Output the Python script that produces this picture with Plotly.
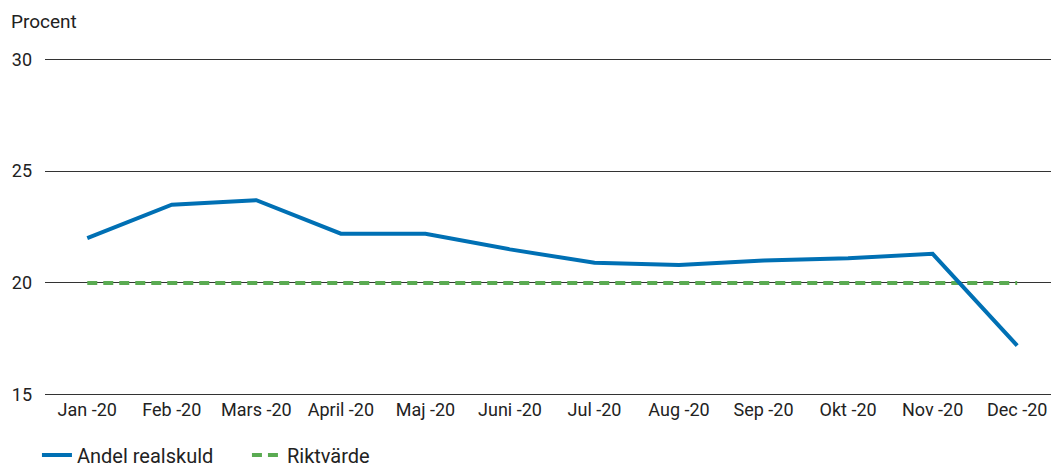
import plotly.graph_objects as go

months = ['Jan -20', 'Feb -20', 'Mars -20', 'April -20', 'Maj -20', 'Juni -20',
          'Jul -20', 'Aug -20', 'Sep -20', 'Okt -20', 'Nov -20', 'Dec -20']
andel_realskuld = [22.0, 23.5, 23.7, 22.2, 22.2, 21.5, 20.9, 20.8, 21.0, 21.1, 21.3, 17.2]
riktvarde = [20, 20, 20, 20, 20, 20, 20, 20, 20, 20, 20, 20]

fig = go.Figure()

fig.add_trace(go.Scatter(
    x=months, y=riktvarde,
    mode='lines',
    name='Riktvärde',
    line=dict(width=4, color='#5aab52', dash='10px,6px')
))

fig.add_trace(go.Scatter(
    x=months, y=andel_realskuld,
    mode='lines',
    name='Andel realskuld',
    line=dict(width=4, color='#0070b4')
))

fig.update_xaxes(
    range=[-0.5, 11.4],
    showgrid=False,
    showline=False,
    ticks='',
    tickfont=dict(size=18, color='#222222'),
)
fig.update_yaxes(
    range=[14.9, 30.1],
    tickvals=[15, 20, 25, 30],
    showgrid=True,
    gridcolor='#333333',
    gridwidth=1,
    zeroline=False,
    ticks='',
    ticklabelstandoff=12,
    tickfont=dict(size=18, color='#222222'),
)

fig.add_annotation(
    text='Procent', xref='paper', yref='paper', x=-0.036, y=1.105,
    xanchor='left', yanchor='middle', showarrow=False,
    font=dict(size=19, color='#222222')
)

fig.update_layout(
    width=1051, height=468,
    margin=dict(l=45, r=0, t=57, b=71),
    plot_bgcolor='white',
    paper_bgcolor='white',
    font=dict(family='Roboto', color='#222222'),
    legend=dict(
        orientation='h', traceorder='reversed',
        yref='container', y=0.028, yanchor='middle',
        x=-0.008, xanchor='left',
        font=dict(size=20), itemwidth=30,
        entrywidth=165, entrywidthmode='pixels'
    ),
)

fig.write_html('out.html', config={'displayModeBar': False},
               post_script="document.body.style.margin='0';")
